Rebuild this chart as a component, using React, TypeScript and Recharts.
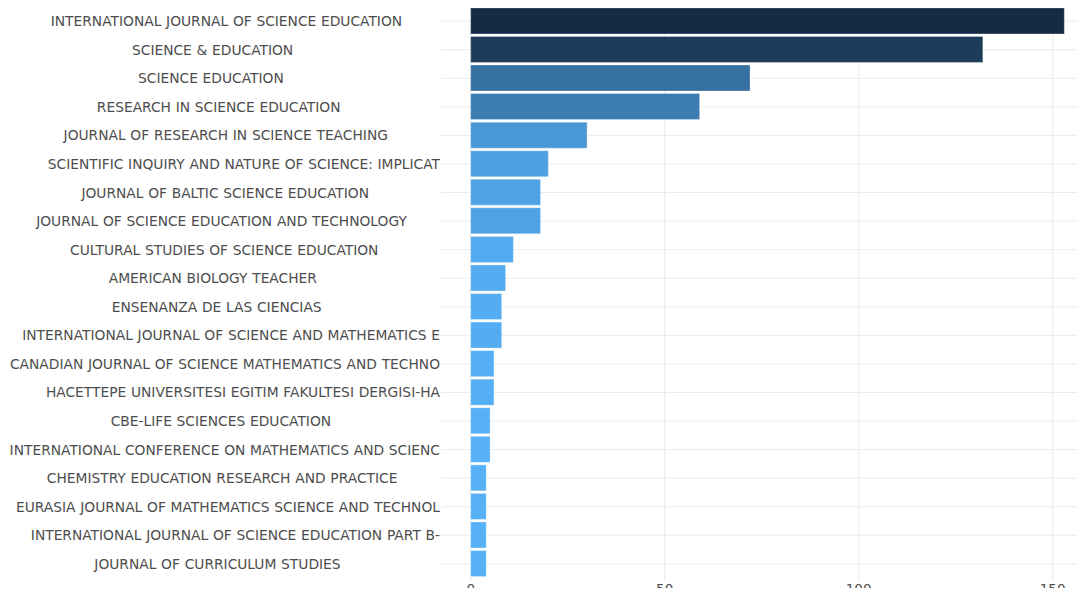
import React from 'react';
import { BarChart, Bar, XAxis, YAxis, CartesianGrid, Cell } from 'recharts';

// journal names as shown on the axis (already cut at 50 characters)
const journals = [
  'INTERNATIONAL JOURNAL OF SCIENCE EDUCATION',
  'SCIENCE & EDUCATION',
  'SCIENCE EDUCATION',
  'RESEARCH IN SCIENCE EDUCATION',
  'JOURNAL OF RESEARCH IN SCIENCE TEACHING',
  'SCIENTIFIC INQUIRY AND NATURE OF SCIENCE: IMPLICAT',
  'JOURNAL OF BALTIC SCIENCE EDUCATION',
  'JOURNAL OF SCIENCE EDUCATION AND TECHNOLOGY',
  'CULTURAL STUDIES OF SCIENCE EDUCATION',
  'AMERICAN BIOLOGY TEACHER',
  'ENSENANZA DE LAS CIENCIAS',
  'INTERNATIONAL JOURNAL OF SCIENCE AND MATHEMATICS E',
  'CANADIAN JOURNAL OF SCIENCE MATHEMATICS AND TECHNO',
  'HACETTEPE UNIVERSITESI EGITIM FAKULTESI DERGISI-HA',
  'CBE-LIFE SCIENCES EDUCATION',
  'INTERNATIONAL CONFERENCE ON MATHEMATICS AND SCIENC',
  'CHEMISTRY EDUCATION RESEARCH AND PRACTICE',
  'EURASIA JOURNAL OF MATHEMATICS SCIENCE AND TECHNOL',
  'INTERNATIONAL JOURNAL OF SCIENCE EDUCATION PART B-',
  'JOURNAL OF CURRICULUM STUDIES',
];

const articles = [153, 132, 72, 59, 30, 20, 18, 18, 11, 9, 8, 8, 6, 6, 5, 5, 4, 4, 4, 4];

const xTicks = [0, 50, 100, 150];

const LOW = '#132B43';
const HIGH = '#56B1F7';

// ggplot-style gradient, interpolated in Lab space
const toLab = (hex: string) => {
  const c = [1, 3, 5].map(i => parseInt(hex.slice(i, i + 2), 16) / 255)
    .map(v => (v <= 0.04045 ? v / 12.92 : Math.pow((v + 0.055) / 1.055, 2.4)));
  const X = (0.4124 * c[0] + 0.3576 * c[1] + 0.1805 * c[2]) / 0.95047;
  const Y = 0.2126 * c[0] + 0.7152 * c[1] + 0.0722 * c[2];
  const Z = (0.0193 * c[0] + 0.1192 * c[1] + 0.9505 * c[2]) / 1.08883;
  const f = (t: number) => (t > 0.008856 ? Math.cbrt(t) : 7.787 * t + 16 / 116);
  return [116 * f(Y) - 16, 500 * (f(X) - f(Y)), 200 * (f(Y) - f(Z))];
};

const fromLab = ([L, a, b]: number[]) => {
  const fy = (L + 16) / 116;
  const fx = fy + a / 500;
  const fz = fy - b / 200;
  const inv = (t: number) => (t * t * t > 0.008856 ? t * t * t : (t - 16 / 116) / 7.787);
  const X = 0.95047 * inv(fx), Y = inv(fy), Z = 1.08883 * inv(fz);
  const lin = [
    3.2406 * X - 1.5372 * Y - 0.4986 * Z,
    -0.9689 * X + 1.8758 * Y + 0.0415 * Z,
    0.0557 * X - 0.204 * Y + 1.057 * Z,
  ];
  return '#' + lin.map(v => {
    const s = v <= 0.0031308 ? 12.92 * v : 1.055 * Math.pow(v, 1 / 2.4) - 0.055;
    const n = Math.round(Math.min(1, Math.max(0, s)) * 255);
    return n.toString(16).padStart(2, '0');
  }).join('');
};

const lowLab = toLab(LOW);
const highLab = toLab(HIGH);
const maxN = Math.max(...articles);
const minN = Math.min(...articles);

// biggest count gets the dark end
const colourFor = (n: number) => {
  const t = (maxN - n) / (maxN - minN);
  return fromLab(lowLab.map((v, i) => v + (highLab[i] - v) * t));
};

const data = journals.map((name, i) => ({
  label: name.padEnd(50, ' '),
  n: articles[i],
}));

const JournalTick = (props: any) => {
  const { x, y, payload } = props;
  return (
    <text
      x={x}
      y={y}
      textAnchor="end"
      dominantBaseline="central"
      fill="#4d4d4d"
      fontSize={13.8}
      style={{ whiteSpace: 'pre', wordSpacing: '0.35px' }}
    >
      {payload.value}
    </text>
  );
};

export default function App() {
  return (
    <div style={{ margin: -8, width: 1085, height: 596, overflow: 'hidden', background: '#fff' }}>
      <BarChart
        width={1094}
        height={596}
        data={data}
        layout="vertical"
        margin={{ top: 4, right: 0, bottom: 0, left: 0 }}
        style={{ fontFamily: '"DejaVu Sans", Verdana, sans-serif' }}
      >
        <CartesianGrid stroke="#ebebeb" strokeWidth={1} syncWithTicks />
        <XAxis
          type="number"
          domain={[-7.65, 160.65]}
          ticks={xTicks}
          allowDataOverflow
          axisLine={false}
          tickLine={false}
          tickSize={0}
          tickMargin={3}
          height={15}
          tick={{ fill: '#4d4d4d', fontSize: 13.5 }}
        />
        <YAxis
          type="category"
          dataKey="label"
          width={441}
          axisLine={false}
          tickLine={false}
          tickSize={0}
          tickMargin={1}
          interval={0}
          padding={{ top: 2.9, bottom: 2.9 }}
          tick={<JournalTick />}
        />
        <Bar
          dataKey="n"
          barSize={26}
          stroke="#ffffff"
          strokeOpacity={0.3}
          strokeWidth={1}
          isAnimationActive={false}
        >
          {data.map((d, i) => (
            <Cell key={i} fill={colourFor(d.n)} />
          ))}
        </Bar>
      </BarChart>
    </div>
  );
}
